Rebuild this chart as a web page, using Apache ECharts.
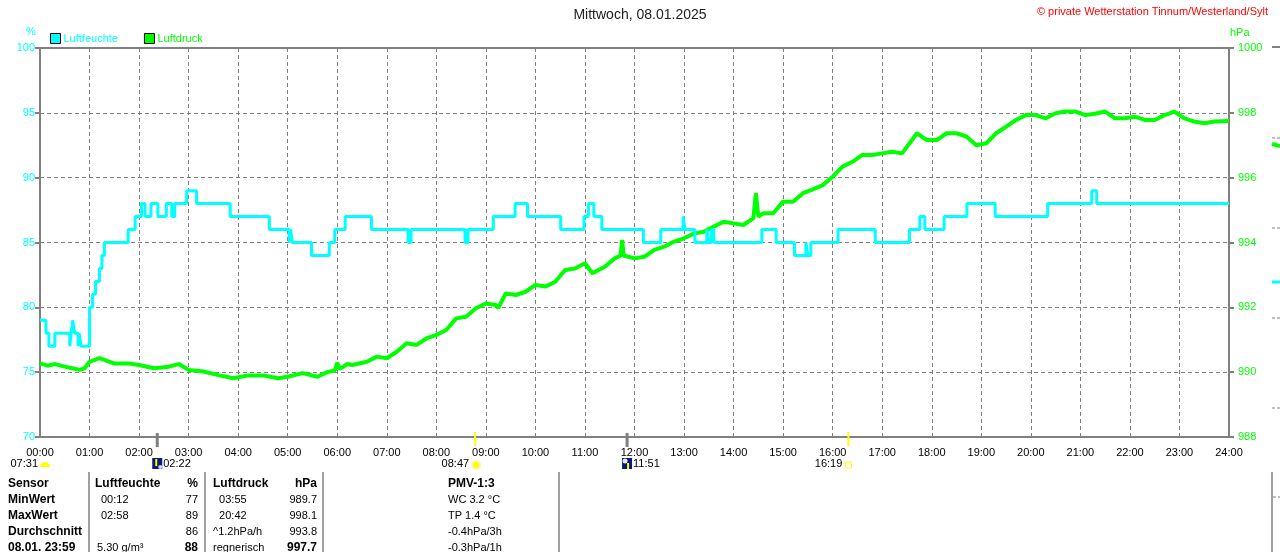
<!DOCTYPE html>
<html>
<head>
<meta charset="utf-8">
<script src="https://cdn.jsdelivr.net/npm/echarts@6/dist/echarts.min.js"></script>
<style>
  html, body { margin: 0; padding: 0; background: #fff; }
  #chart { width: 1280px; height: 552px; }
</style>
</head>
<body>
<div id="chart"></div>
<script>
// Luftfeuchte [Stunde, %] - Stufenwerte, jeweils Zeitpunkt der Aenderung
var humidity = [
  [0, 79], [0.12, 78], [0.18, 77], [0.30, 78], [0.60, 77], [0.63, 78], [0.66, 79], [0.70, 78],
  [0.77, 77], [0.79, 78], [0.83, 77], [1.00, 80], [1.06, 81], [1.12, 82], [1.20, 83], [1.25, 84],
  [1.30, 85], [1.78, 86], [1.92, 87], [2.05, 88], [2.12, 87], [2.24, 88], [2.38, 87], [2.55, 88],
  [2.66, 87], [2.72, 88], [2.96, 89], [3.16, 88], [3.84, 87], [4.63, 86], [5.03, 85], [5.06, 86],
  [5.09, 85], [5.48, 84], [5.84, 85], [5.95, 86], [6.16, 87], [6.69, 86], [7.43, 85], [7.49, 86],
  [8.58, 85], [8.64, 86], [9.15, 87], [9.59, 88], [9.84, 87], [10.51, 86], [10.98, 87], [11.07, 88],
  [11.18, 87], [11.34, 86], [12.18, 85], [12.53, 86], [12.98, 87], [13.02, 86], [13.22, 85],
  [13.46, 86], [13.50, 85], [13.55, 86], [13.60, 85], [14.57, 86], [14.86, 85], [15.23, 84],
  [15.46, 85], [15.50, 84], [15.56, 85], [16.11, 86], [16.86, 85], [17.55, 86], [17.76, 87],
  [17.86, 86], [18.25, 87], [18.71, 88], [19.28, 87], [20.34, 88], [21.23, 89], [21.33, 88], [24, 88]
];

// Luftdruck [Stunde, hPa]
var pressure = [
  [0.0, 990.27], [0.15, 990.2], [0.3, 990.25], [0.5, 990.17], [0.65, 990.12], [0.8, 990.07],
  [0.9, 990.12], [1.0, 990.32], [1.2, 990.43], [1.35, 990.35], [1.5, 990.27], [1.8, 990.27],
  [2.0, 990.22], [2.3, 990.12], [2.6, 990.17], [2.8, 990.25], [3.0, 990.07], [3.3, 990.02],
  [3.6, 989.91], [3.9, 989.81], [4.2, 989.9], [4.5, 989.9], [4.8, 989.81], [5.0, 989.86],
  [5.3, 989.97], [5.6, 989.86], [5.8, 990.0], [5.95, 990.05], [6.0, 990.29], [6.05, 990.1],
  [6.2, 990.25], [6.3, 990.22], [6.6, 990.32], [6.8, 990.48], [7.0, 990.43], [7.2, 990.63],
  [7.4, 990.89], [7.6, 990.84], [7.8, 991.04], [8.0, 991.15], [8.2, 991.3], [8.4, 991.66],
  [8.6, 991.71], [8.8, 991.97], [9.0, 992.12], [9.2, 992.07], [9.25, 991.98], [9.4, 992.43],
  [9.6, 992.38], [9.8, 992.48], [10.0, 992.69], [10.2, 992.64], [10.4, 992.79], [10.6, 993.15],
  [10.8, 993.2], [11.0, 993.36], [11.15, 993.05], [11.4, 993.25], [11.6, 993.51], [11.72, 993.6],
  [11.75, 994.08], [11.78, 993.6], [12.0, 993.51], [12.2, 993.56], [12.4, 993.77], [12.6, 993.87],
  [12.8, 994.03], [13.0, 994.13], [13.2, 994.28], [13.4, 994.33], [13.6, 994.49], [13.8, 994.64],
  [14.0, 994.59], [14.2, 994.54], [14.4, 994.75], [14.45, 995.52], [14.5, 994.8], [14.6, 994.9],
  [14.8, 994.9], [15.0, 995.26], [15.2, 995.26], [15.4, 995.52], [15.6, 995.64], [15.8, 995.77],
  [16.0, 996.03], [16.2, 996.34], [16.4, 996.49], [16.6, 996.7], [16.8, 996.7], [17.0, 996.75],
  [17.2, 996.8], [17.4, 996.75], [17.6, 997.16], [17.7, 997.37], [17.9, 997.16], [18.1, 997.16],
  [18.3, 997.37], [18.5, 997.37], [18.7, 997.27], [18.9, 997.0], [19.1, 997.06], [19.3, 997.37],
  [19.5, 997.57], [19.7, 997.78], [19.9, 997.93], [20.1, 997.93], [20.3, 997.83], [20.5, 997.99],
  [20.7, 998.04], [20.9, 998.04], [21.1, 997.93], [21.3, 997.97], [21.5, 998.04], [21.7, 997.83],
  [21.9, 997.83], [22.1, 997.88], [22.3, 997.78], [22.5, 997.78], [22.7, 997.93], [22.9, 998.04],
  [23.1, 997.83], [23.3, 997.73], [23.5, 997.68], [23.7, 997.73], [24.0, 997.75]
];

// Sonne / Mond Zeiten
var sunMoon = [
  { time: 2 + 22 / 60, label: '02:22', kind: 'moonset' },
  { time: 8 + 47 / 60, label: '08:47', kind: 'sunrise' },
  { time: 11 + 51 / 60, label: '11:51', kind: 'moonrise' },
  { time: 16 + 19 / 60, label: '16:19', kind: 'sunset' }
];
var dawnLabel = '07:31';

// Tabelle unten
var tableHeader = ['Sensor', 'Luftfeuchte', '%', 'Luftdruck', 'hPa', 'PMV-1:3'];
var rowNames = ['MinWert', 'MaxWert', 'Durchschnitt', '08.01. 23:59'];
var humTimes = ['00:12', '02:58', '', '5.30 g/m³'];
var humValues = ['77', '89', '86', '88'];
var presTimes = ['  03:55', '  20:42', '^1.2hPa/h', 'regnerisch'];
var presValues = ['989.7', '998.1', '993.8', '997.7'];
var pmvTexts = ['WC 3.2 °C', 'TP 1.4 °C', '-0.4hPa/3h', '-0.3hPa/1h'];

var GREY = '#808080';
var CYAN = '#00ffff';
var GREEN = '#00ff00';
var FONT = 'Liberation Sans, Arial, sans-serif';

var myChart = echarts.init(document.getElementById('chart'));

var option = {
  backgroundColor: '#fff',
  animation: false,
  textStyle: { fontFamily: FONT },
  title: {
    text: 'Mittwoch, 08.01.2025',
    left: 'center',
    top: 3,
    textStyle: { fontSize: 14, fontWeight: 'normal', color: '#222', fontFamily: FONT }
  },
  legend: {
    left: 45,
    top: 28,
    itemWidth: 10,
    itemHeight: 10,
    itemGap: 26,
    icon: 'rect',
    textStyle: { fontSize: 11, fontFamily: FONT, padding: [0, 0, 0, -2] },
    data: [
      { name: 'Luftfeuchte', textStyle: { color: CYAN }, itemStyle: { borderColor: '#000', borderWidth: 1 } },
      { name: 'Luftdruck', textStyle: { color: GREEN }, itemStyle: { borderColor: '#000', borderWidth: 1 } }
    ]
  },
  grid: {
    left: 40, right: 51, top: 48, bottom: 115,
    show: true, borderColor: GREY, borderWidth: 2
  },
  xAxis: {
    type: 'value',
    min: 0, max: 24, interval: 1,
    axisLine: { show: false },
    axisTick: { show: false },
    axisLabel: {
      color: '#000', fontSize: 11, margin: 10, fontFamily: FONT,
      formatter: function (v) { return (v < 10 ? '0' : '') + v + ':00'; }
    },
    splitLine: { lineStyle: { color: GREY, type: [4, 3], width: 1 } }
  },
  yAxis: [
    {
      type: 'value',
      min: 70, max: 100, interval: 5,
      axisLine: { show: false },
      axisTick: { show: true, length: 5, lineStyle: { color: GREY, width: 2 } },
      axisLabel: { color: CYAN, fontSize: 11, margin: 5, fontFamily: FONT },
      splitLine: { lineStyle: { color: GREY, type: [4, 3], width: 1 } }
    },
    {
      type: 'value',
      min: 988, max: 1000, interval: 2,
      position: 'right',
      axisLine: { show: false },
      axisTick: { show: true, length: 5, lineStyle: { color: GREY, width: 2 } },
      axisLabel: {
        color: GREEN, fontSize: 11, margin: 9, fontFamily: FONT,
        formatter: function (v) { return String(v); }
      },
      splitLine: { show: false }
    }
  ],
  series: [
    {
      name: 'Luftdruck',
      type: 'line',
      yAxisIndex: 1,
      data: pressure,
      showSymbol: false,
      color: GREEN,
      lineStyle: { color: GREEN, width: 4 },
      z: 2
    },
    {
      name: 'Luftfeuchte',
      type: 'line',
      yAxisIndex: 0,
      data: humidity,
      step: 'end',
      showSymbol: false,
      color: CYAN,
      lineStyle: { color: CYAN, width: 3 },
      z: 3
    }
  ]
};

myChart.setOption(option);

// Grafik: Achsentitel, Sonne/Mond Markierungen, Tabelle
var g = [];
function txt(x, y, s, opt) {
  opt = opt || {};
  g.push({
    type: 'text', x: x, y: y, silent: true,
    style: {
      text: s, fill: opt.color || '#000',
      font: (opt.bold ? 'bold ' : '') + (opt.size || 11) + 'px ' + FONT,
      textAlign: opt.align || 'left', textVerticalAlign: 'middle'
    }
  });
}
function line(x1, y1, x2, y2, color, w, dash) {
  g.push({
    type: 'line', silent: true,
    shape: { x1: x1, y1: y1, x2: x2, y2: y2 },
    style: { stroke: color, lineWidth: w, lineDash: dash || null }
  });
}

// Einheiten
txt(26, 32, '%', { color: CYAN, size: 11 });
txt(1230, 33, 'hPa', { color: GREEN, size: 11 });
txt(1268, 12, '© private Wetterstation Tinnum/Westerland/Sylt', { color: '#ff0000', size: 11, align: 'right' });

var axisY = myChart.convertToPixel({ yAxisIndex: 0 }, 70);
var labelY = axisY + 27;

// Daemmerung links
txt(38, labelY, dawnLabel, { align: 'right' });
g.push({
  type: 'sector', silent: true,
  shape: { cx: 45, cy: labelY + 3, r0: 0, r: 5, startAngle: Math.PI, endAngle: 2 * Math.PI },
  style: { fill: '#ffff00' }
});

sunMoon.forEach(function (m) {
  var px = myChart.convertToPixel({ xAxisIndex: 0 }, m.time);
  if (m.kind === 'moonset' || m.kind === 'moonrise') {
    line(px, axisY - 4, px, axisY + 10, GREY, 3);
    g.push({ type: 'rect', silent: true, shape: { x: px - 5, y: labelY - 6, width: 10, height: 11 }, style: { fill: '#0a1a7a' } });
    if (m.kind === 'moonset') {
      line(px - 1, labelY - 5, px - 1, labelY + 2, '#ffff00', 2);
      g.push({ type: 'circle', silent: true, shape: { cx: px + 3, cy: labelY + 3, r: 2 }, style: { fill: '#d8d8ff' } });
    } else {
      line(px + 1, labelY - 1, px + 1, labelY + 5, '#ffff00', 2);
      g.push({ type: 'circle', silent: true, shape: { cx: px - 2, cy: labelY - 3, r: 2.5 }, style: { fill: '#e8e8ff' } });
    }
    txt(px + 6, labelY, m.label);
  } else {
    line(px, axisY - 5, px, axisY + 9, '#ffff00', 2);
    if (m.kind === 'sunrise') {
      g.push({ type: 'circle', silent: true, shape: { cx: px + 1, cy: labelY + 1, r: 4 }, style: { fill: '#ffff00', stroke: '#fff6a0', lineWidth: 2 } });
    } else {
      g.push({ type: 'rect', silent: true, shape: { x: px - 3, y: labelY - 2, width: 6, height: 6 }, style: { fill: '#fff', stroke: '#ffff00', lineWidth: 1 } });
    }
    txt(px - 6, labelY, m.label, { align: 'right' });
  }
});

// Tabelle
var rowY = [484, 500, 516, 532, 548];
[89, 205, 323, 559].forEach(function (x) { line(x, 472, x, 552, GREY, 1.5); });
txt(8, rowY[0], tableHeader[0], { bold: true, size: 12 });
txt(95, rowY[0], tableHeader[1], { bold: true, size: 12 });
txt(198, rowY[0], tableHeader[2], { bold: true, size: 12, align: 'right' });
txt(213, rowY[0], tableHeader[3], { bold: true, size: 12 });
txt(317, rowY[0], tableHeader[4], { bold: true, size: 12, align: 'right' });
txt(448, rowY[0], tableHeader[5], { bold: true, size: 12 });
for (var i = 0; i < rowNames.length; i++) {
  var y = rowY[i + 1];
  var last = i === rowNames.length - 1;
  txt(8, y, rowNames[i], { bold: true, size: 12 });
  txt(last ? 97 : 101, y, humTimes[i]);
  txt(198, y, humValues[i], { align: 'right', bold: last, size: last ? 12 : 11 });
  txt(213, y, presTimes[i]);
  txt(317, y, presValues[i], { align: 'right', bold: last, size: last ? 12 : 11 });
  txt(448, y, pmvTexts[i]);
}

// Reste der Nachbargrafik am rechten Rand
line(1272, 47, 1280, 47, GREY, 2);
[138, 228, 318, 408].forEach(function (y) { line(1272, y, 1280, y, GREY, 1, [3, 2]); });
line(1272, 144, 1280, 146, GREEN, 4);
line(1272, 282, 1280, 282, CYAN, 3);
line(1272, 472, 1272, 552, GREY, 1.5);
line(1273, 497, 1280, 497, GREY, 1, [3, 2]);

myChart.setOption({ graphic: g });
</script>
</body>
</html>
